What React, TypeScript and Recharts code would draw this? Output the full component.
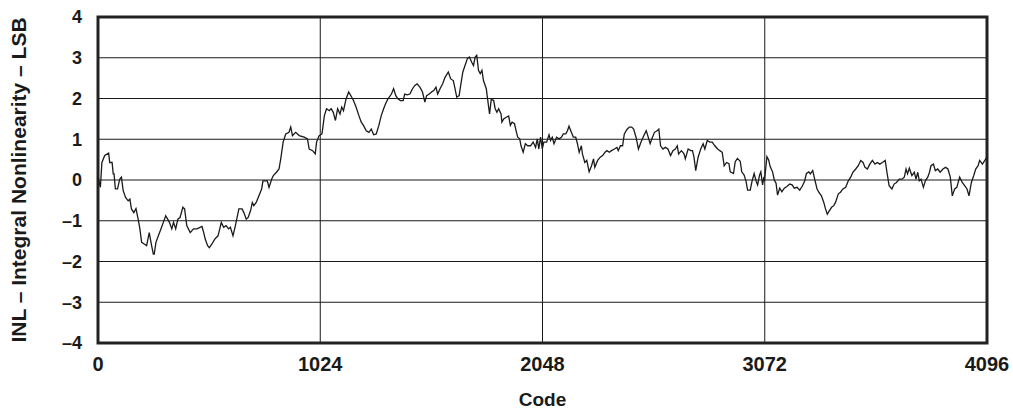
import {
  CartesianGrid,
  Line,
  LineChart,
  ReferenceArea,
  XAxis,
  YAxis,
} from "recharts";

// [code, INL in LSB]
const firstQuarter: [number, number][] = [
  [0, 0.07], [11, -0.18], [18, 0.43], [31, 0.6], [49, 0.66], [54, 0.43], [65, 0.43],
  [70, 0.15], [74, 0.15], [80, -0.22], [90, -0.22], [100, 0.02], [108, 0.07],
  [116, -0.26], [127, -0.43], [139, -0.51], [147, -0.47], [154, -0.71], [165, -0.8],
  [175, -0.7], [185, -0.96], [193, -1.2], [201, -1.53], [213, -1.57], [224, -1.61],
  [236, -1.29], [247, -1.61], [255, -1.82], [259, -1.82], [267, -1.53], [278, -1.37],
  [290, -1.2], [301, -1.04], [312, -0.88], [321, -0.96], [329, -1.04], [340, -1.2],
  [348, -1.04], [358, -1.2], [368, -0.96], [378, -0.92], [391, -0.67], [399, -0.71],
  [409, -1.12], [425, -1.29], [440, -1.2], [456, -1.2], [479, -1.14], [487, -1.29],
  [494, -1.45], [505, -1.61], [513, -1.66], [525, -1.57], [538, -1.45], [553, -1.37],
  [561, -1.2], [568, -1.04], [579, -1.16], [590, -1.12], [602, -1.2], [610, -1.16],
  [622, -1.37], [633, -1.12], [649, -0.71], [664, -0.71], [672, -0.8], [683, -0.96],
  [692, -0.92], [703, -0.75], [711, -0.55], [718, -0.63], [729, -0.55], [741, -0.39],
  [754, -0.22], [760, -0.02], [780, -0.02], [788, -0.18], [800, 0.02], [808, 0.11],
  [822, 0.19], [834, 0.27], [842, 0.52], [853, 0.93], [865, 1.13], [880, 1.17],
  [888, 1.3], [896, 1.09], [911, 1.17], [927, 1.09], [950, 1.05], [965, 1.01],
];

const secondQuarter: [number, number][] = [
  [973, 0.76], [989, 0.72], [1001, 0.64], [1007, 0.93], [1019, 1.09], [1032, 1.13],
  [1043, 1.58], [1053, 1.75], [1066, 1.7], [1074, 1.75], [1084, 1.66], [1094, 1.46],
  [1104, 1.75], [1115, 1.62], [1123, 1.79], [1131, 1.7], [1143, 1.99], [1155, 2.16],
  [1166, 2.06], [1177, 1.95], [1189, 1.79], [1202, 1.58], [1213, 1.42], [1223, 1.34],
  [1236, 1.21], [1248, 1.17], [1259, 1.25], [1270, 1.11], [1282, 1.13], [1294, 1.34],
  [1305, 1.58], [1316, 1.75], [1325, 1.87], [1336, 1.99], [1352, 2.11], [1362, 2.24],
  [1372, 2.07], [1382, 1.99], [1393, 1.95], [1406, 1.95], [1413, 2.11], [1424, 2.09],
  [1437, 2.11], [1449, 2.24], [1460, 2.32], [1470, 2.36], [1483, 2.28], [1495, 2.16],
  [1506, 1.91], [1514, 2.07], [1526, 2.11], [1537, 2.16], [1548, 2.2], [1557, 2.28],
  [1565, 2.11], [1576, 2.24], [1588, 2.36], [1599, 2.52], [1614, 2.65], [1625, 2.48],
  [1637, 2.44], [1645, 2.24], [1653, 2.03], [1664, 2.07], [1671, 2.32], [1681, 2.65],
  [1691, 2.81], [1702, 2.98], [1711, 3.02], [1722, 2.89], [1730, 2.81], [1738, 3.02],
  [1745, 3.06], [1753, 2.69], [1761, 2.61], [1769, 2.69], [1776, 2.44], [1789, 2.24],
  [1795, 1.99], [1804, 1.62], [1812, 1.98], [1823, 1.95], [1830, 1.75], [1838, 1.66],
  [1846, 1.75], [1857, 1.62], [1861, 1.42], [1869, 1.5], [1881, 1.54], [1892, 1.57],
  [1900, 1.34], [1908, 1.42], [1919, 1.38], [1928, 1.17], [1934, 1.05], [1943, 1.01],
  [1949, 0.84], [1959, 0.68], [1969, 0.89], [1980, 0.84],
];

const thirdQuarter: [number, number][] = [
  [1993, 0.84], [2005, 0.93], [2016, 0.8], [2024, 1.01], [2031, 0.76], [2039, 1.05],
  [2047, 0.76], [2054, 0.93], [2067, 0.93], [2078, 1.11], [2085, 0.97], [2093, 1.05],
  [2101, 0.89], [2113, 1.05], [2124, 1.01], [2135, 1.05], [2144, 1.13], [2155, 1.13],
  [2163, 1.21], [2170, 1.32], [2181, 1.17], [2190, 1.05], [2201, 1.05], [2209, 0.89],
  [2217, 0.68], [2227, 0.84], [2232, 0.64], [2243, 0.43], [2252, 0.48], [2263, 0.2],
  [2274, 0.35], [2283, 0.52], [2289, 0.31], [2302, 0.48], [2314, 0.56], [2325, 0.6],
  [2336, 0.68], [2345, 0.72], [2356, 0.68], [2366, 0.72], [2379, 0.76], [2391, 0.8],
  [2397, 0.72], [2407, 0.84], [2417, 0.84], [2425, 1.13], [2437, 1.24], [2448, 1.3],
  [2459, 1.3], [2468, 1.25], [2479, 1.05], [2490, 0.76], [2502, 0.93], [2515, 1.09],
  [2526, 1.21], [2533, 1.09], [2544, 0.89], [2552, 1.01], [2564, 1.17], [2576, 1.21],
  [2584, 1.25], [2592, 0.84], [2603, 0.76], [2614, 0.8], [2626, 0.76], [2638, 0.6],
  [2649, 0.72], [2660, 0.76], [2669, 0.84], [2675, 0.64], [2688, 0.72], [2700, 0.64],
  [2706, 0.52], [2719, 0.76], [2731, 0.72], [2739, 0.72], [2746, 0.56], [2754, 0.23],
  [2765, 0.56], [2777, 0.76], [2788, 0.89], [2796, 0.76], [2807, 0.97], [2819, 0.93],
  [2830, 0.93], [2842, 0.84], [2855, 0.76], [2865, 0.72], [2876, 0.68], [2885, 0.35],
  [2896, 0.43], [2907, 0.4], [2913, 0.2], [2928, 0.16], [2936, 0.45], [2946, 0.53],
  [2959, 0.46], [2966, 0.2], [2977, 0.12], [2986, -0.04], [2993, -0.25], [3005, -0.25],
  [3013, -0.04], [3023, 0.16], [3033, -0.04], [3039, -0.12], [3048, 0.12], [3054, 0.2],
  [3062, -0.12], [3067, 0.04],
];

const fourthQuarter: [number, number][] = [
  [3071, 0.0], [3082, 0.57], [3090, 0.49], [3097, 0.33], [3108, 0.2], [3116, 0.0],
  [3124, -0.08], [3131, -0.37], [3141, -0.2], [3151, -0.29], [3162, -0.2], [3174, -0.16],
  [3187, -0.1], [3198, -0.12], [3208, -0.2], [3221, -0.18], [3233, -0.25], [3244, -0.16],
  [3255, -0.04], [3264, 0.16], [3275, 0.2], [3282, 0.15], [3293, 0.23], [3302, 0.02],
  [3313, -0.22], [3321, -0.3], [3333, -0.39], [3344, -0.55], [3352, -0.71], [3360, -0.84],
  [3370, -0.75], [3380, -0.67], [3390, -0.63], [3398, -0.55], [3411, -0.34], [3421, -0.3],
  [3432, -0.22], [3445, -0.18], [3457, -0.02], [3468, 0.07], [3478, 0.19], [3491, 0.27],
  [3503, 0.35], [3514, 0.48], [3525, 0.43], [3534, 0.31], [3545, 0.27], [3556, 0.39],
  [3568, 0.48], [3580, 0.39], [3591, 0.43], [3602, 0.39], [3614, 0.43], [3627, 0.48],
  [3635, 0.19], [3645, -0.14], [3658, -0.22], [3668, -0.1], [3679, -0.06], [3692, 0.02],
  [3704, 0.02], [3715, 0.07], [3723, 0.27], [3730, 0.15], [3738, 0.29], [3750, 0.11],
  [3761, 0.19], [3769, 0.02], [3777, 0.19], [3784, -0.02], [3792, 0.02], [3803, -0.18],
  [3812, -0.02], [3823, 0.07], [3831, 0.19], [3838, 0.35], [3849, 0.39], [3858, 0.23],
  [3869, 0.27], [3880, 0.19], [3893, 0.27], [3905, 0.31], [3916, 0.27], [3927, 0.07],
  [3936, -0.39], [3947, -0.22], [3957, -0.18], [3970, 0.07], [3982, -0.06], [3993, -0.14],
  [4004, -0.22], [4013, -0.39], [4024, -0.06], [4035, 0.11], [4044, 0.27], [4055, 0.35],
  [4062, 0.48], [4075, 0.39], [4086, 0.48], [4096, 0.56],
];

const xTicks = [0, 1024, 2048, 3072, 4096];
const yTicks = [-4, -3, -2, -1, 0, 1, 2, 3, 4];

const data = [...firstQuarter, ...secondQuarter, ...thirdQuarter, ...fourthQuarter].map(
  ([code, inl]) => ({ code, inl })
);

const font = "'Liberation Sans', Arial, Helvetica, sans-serif";
const ink = "#1a1a1a";

const fmtY = (v: number) => (v < 0 ? `\u2013${Math.abs(v)}` : `${v}`);

export default function App() {
  return (
    <div style={{ position: "absolute", left: 0, top: 0, width: 1013, height: 410, background: "#fff" }}>
      <LineChart
        width={1013}
        height={410}
        data={data}
        margin={{ top: 17, right: 26, bottom: 5, left: 40 }}
      >
        <CartesianGrid stroke={ink} strokeWidth={1} horizontalValues={yTicks} verticalValues={xTicks} />
        <XAxis
          dataKey="code"
          type="number"
          domain={[0, 4096]}
          ticks={xTicks}
          height={62}
          axisLine={false}
          tickLine={false}
          tickMargin={8}
          tick={{ fill: ink, fontSize: 20, fontWeight: 700, fontFamily: font }}
          label={{
            value: "Code",
            position: "insideBottom",
            offset: -1,
            fill: ink,
            fontSize: 19,
            fontWeight: 700,
            fontFamily: font,
          }}
        />
        <YAxis
          type="number"
          domain={[-4, 4]}
          ticks={yTicks}
          width={58}
          axisLine={false}
          tickLine={false}
          tickMargin={10}
          tickFormatter={fmtY}
          tick={{ fill: ink, fontSize: 18, fontWeight: 700, fontFamily: font }}
          label={{
            value: "INL \u2013 Integral Nonlinearity \u2013 LSB",
            angle: -90,
            position: "insideLeft",
            offset: -21,
            style: { textAnchor: "middle" },
            fill: ink,
            fontSize: 21,
            fontWeight: 700,
            fontFamily: font,
          }}
        />
        <ReferenceArea
          x1={0}
          x2={4096}
          y1={-4}
          y2={4}
          fill="none"
          stroke="#222"
          strokeWidth={3}
          ifOverflow="visible"
        />
        <Line
          dataKey="inl"
          type="linear"
          stroke={ink}
          strokeWidth={1.3}
          dot={false}
          isAnimationActive={false}
        />
      </LineChart>
    </div>
  );
}
